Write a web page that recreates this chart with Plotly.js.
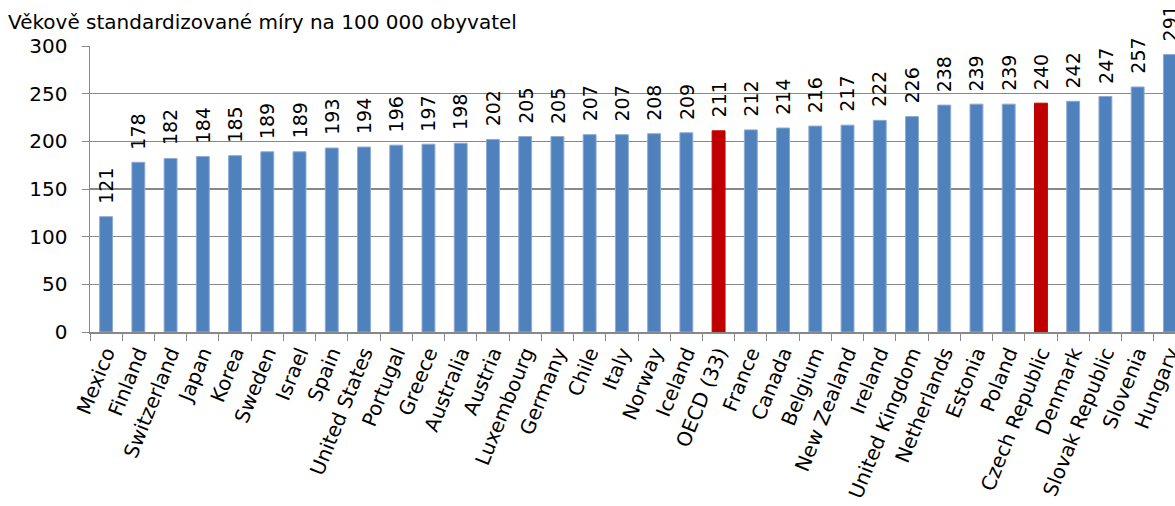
<!DOCTYPE html>
<html>
<head>
<meta charset="utf-8">
<script src="https://cdn.plot.ly/plotly-3.0.1.min.js"></script>
<style>
html,body{margin:0;padding:0;overflow:hidden;background:#fff;}
#chart{width:1190px;height:506px;}
</style>
</head>
<body>
<div id="chart"></div>
<script>
const countries = ["Mexico","Finland","Switzerland","Japan","Korea","Sweden","Israel","Spain","United States","Portugal","Greece","Australia","Austria","Luxembourg","Germany","Chile","Italy","Norway","Iceland","OECD (33)","France","Canada","Belgium","New Zealand","Ireland","United Kingdom","Netherlands","Estonia","Poland","Czech Republic","Denmark","Slovak Republic","Slovenia","Hungary"];
const rates = [121,178,182,184,185,189,189,193,194,196,197,198,202,205,205,207,207,208,209,211,212,214,216,217,222,226,238,239,239,240,242,247,257,291];
const highlighted = ["OECD (33)","Czech Republic"];
const yTitle = "Věkově standardizované míry na 100 000 obyvatel";

const BLUE = "#4F81BD", BLUE_EDGE = "#8DAAD3", RED = "#C00000";
const FONT = "DejaVu Sans";
const FS = 20;

const trace = {
  type: "bar",
  x: countries,
  y: rates,
  cliponaxis: false,
  marker: {
    color: countries.map(c => highlighted.includes(c) ? RED : BLUE),
    line: {
      color: countries.map(c => highlighted.includes(c) ? RED : BLUE_EDGE),
      width: 1
    }
  },
  hoverinfo: "x+y"
};

const labels = countries.map((c, i) => ({
  x: c, y: rates[i], xref: "x", yref: "y",
  text: String(rates[i]),
  showarrow: false,
  textangle: -90,
  xanchor: "center", yanchor: "bottom",
  yshift: 11,
  font: {family: FONT, size: 19, color: "#000"}
}));

const layout = {
  width: 1190, height: 506,
  margin: {l: 90, r: 4, t: 46, b: 174},
  paper_bgcolor: "#fff", plot_bgcolor: "#fff",
  bargap: 0.6,
  showlegend: false,
  font: {family: FONT, size: FS, color: "#000"},
  annotations: labels,
  title: {
    text: yTitle,
    font: {family: FONT, size: FS, color: "#000"},
    xref: "container", yref: "container",
    x: 8/1190, xanchor: "left",
    y: 1 - 22/506, yanchor: "middle"
  },
  xaxis: {
    type: "category",
    tickangle: -68,
    ticks: "outside", tickson: "boundaries", ticklen: 7, tickcolor: "#888",
    showline: true, linecolor: "#888", linewidth: 1.5,
    showgrid: false,
    tickfont: {family: FONT, size: FS, color: "#000"},
    automargin: false
  },
  yaxis: {
    range: [0, 300], dtick: 50, tick0: 0,
    ticks: "outside", ticklen: 7, tickcolor: "#888",
    ticklabelstandoff: 10,
    showline: true, linecolor: "#888", linewidth: 1.5,
    showgrid: true, gridcolor: "#888", gridwidth: 1.2,
    zeroline: false,
    tickfont: {family: FONT, size: FS, color: "#000"},
    automargin: false
  }
};

Plotly.newPlot("chart", [trace], layout, {displayModeBar: false, staticPlot: true});
</script>
</body>
</html>
